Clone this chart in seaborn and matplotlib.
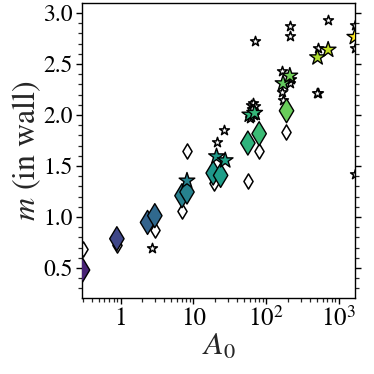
import numpy as np
import pandas as pd
import matplotlib
matplotlib.use("Agg")
import matplotlib.pyplot as plt
from matplotlib.colors import LogNorm
from matplotlib.ticker import FixedLocator, FixedFormatter, MultipleLocator, LogLocator, NullFormatter
import seaborn as sns

sns.set_style("ticks")
plt.rcParams["font.family"] = ["STIXGeneral", "Liberation Serif", "DejaVu Serif"]
plt.rcParams["mathtext.fontset"] = "stix"

# Colored large diamonds
dia_A0 = [0.3, 0.89, 2.35, 2.96, 7.0, 8.2, 18.8, 23.8, 56.4, 80.6, 192]
dia_m = [0.48, 0.787, 0.947, 1.013, 1.209, 1.245, 1.431, 1.408, 1.725, 1.817, 2.042]

# Colored stars
star_A0 = [8.2, 20.9, 27.5, 60, 70, 172, 213, 513, 717, 1670]
star_m = [1.356, 1.594, 1.555, 2.003, 2.02, 2.31, 2.385, 2.565, 2.64, 2.765]

# Open (white) diamonds
odia_A0 = [0.3, 0.89, 2.96, 7.0, 8.1, 19.5, 56.4, 80.6, 187]
odia_m = [0.686, 0.725, 0.875, 1.055, 1.65, 1.33, 1.356, 1.65, 1.83]

# Open (white) stars
ostar_A0 = [2.67, 20.9, 26.6, 62, 66, 70, 64, 60, 68, 70, 213, 213, 717,
            513, 505, 513, 1670, 1670, 1670, 167, 215, 167, 172, 220]
ostar_m = [0.70, 1.735, 1.856, 2.10, 2.12, 2.09, 2.06, 1.97, 2.0, 2.73, 2.875, 2.777, 2.934,
           2.216, 2.22, 2.655, 2.886, 2.66, 1.425, 2.43, 2.31, 2.225, 2.15, 2.35]

x_ticks = [1, 10, 100, 1000]
x_ticklabels = ["1", "10", "$10^2$", "$10^3$"]

dia = pd.DataFrame({"A0": dia_A0, "m": dia_m})
star = pd.DataFrame({"A0": star_A0, "m": star_m})
odia = pd.DataFrame({"A0": odia_A0, "m": odia_m})
ostar = pd.DataFrame({"A0": ostar_A0, "m": ostar_m})

fig = plt.figure(figsize=(3.74, 3.74), dpi=100)
ax = fig.add_axes([0.219, 0.203, 0.73, 0.788])

norm = LogNorm(vmin=0.115, vmax=1700)

sns.scatterplot(data=odia, x="A0", y="m", marker="d", s=60, color="white",
                edgecolor="black", linewidth=1.1, ax=ax, zorder=2)
sns.scatterplot(data=ostar, x="A0", y="m", marker="*", s=55, color="white",
                edgecolor="black", linewidth=1.1, ax=ax, zorder=2)
sns.scatterplot(data=dia, x="A0", y="m", hue="A0", hue_norm=norm, palette="viridis",
                marker="d", s=150, edgecolor="black", linewidth=1.0, legend=False, ax=ax, zorder=3)
sns.scatterplot(data=star, x="A0", y="m", hue="A0", hue_norm=norm, palette="viridis",
                marker="*", s=140, edgecolor="black", linewidth=1.0, legend=False, ax=ax, zorder=4)

ax.set_xscale("log")
ax.set_xlim(0.294, 1675)
ax.set_ylim(0.205, 3.095)

ax.xaxis.set_major_locator(FixedLocator(x_ticks))
ax.xaxis.set_major_formatter(FixedFormatter(x_ticklabels))
ax.xaxis.set_minor_locator(LogLocator(base=10, subs=np.arange(2, 10), numticks=20))
ax.xaxis.set_minor_formatter(NullFormatter())
ax.yaxis.set_major_locator(MultipleLocator(0.5))
ax.yaxis.set_minor_locator(MultipleLocator(0.1))
ax.yaxis.set_major_formatter(plt.FormatStrFormatter("%.1f"))

ax.tick_params(axis="both", which="major", direction="out", length=4.5, width=1.0, colors="black")
ax.tick_params(axis="both", which="minor", direction="out", length=3, width=0.9)
ax.tick_params(axis="y", which="both", right=True, labelright=False)
ax.tick_params(axis="y", which="major", labelsize=17, pad=2)
ax.tick_params(axis="x", which="both", top=False)
ax.tick_params(axis="x", which="major", labelsize=18, pad=2)

for sp in ax.spines.values():
    sp.set_linewidth(1.0)
    sp.set_color("black")

ax.set_xlabel("$A_0$", fontsize=23, labelpad=0)
ax.set_ylabel("$m$ (in wall)", fontsize=23, labelpad=0)

fig.savefig("out.png", dpi=100, facecolor="white")
